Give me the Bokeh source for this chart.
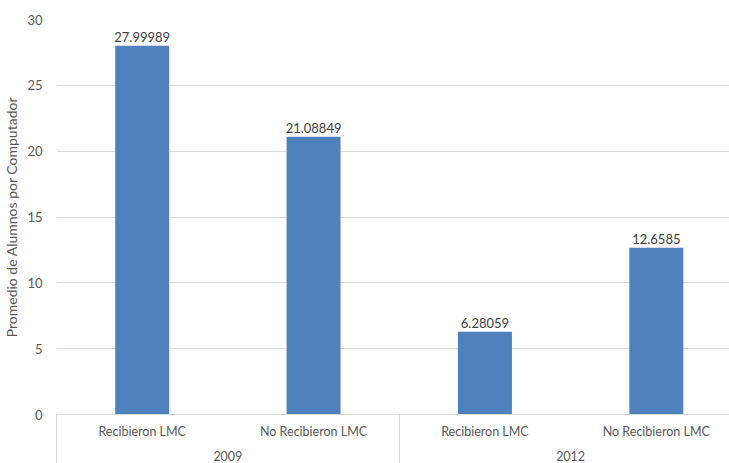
from bokeh.plotting import figure
from bokeh.models import Range1d, LinearAxis, FixedTicker, ColumnDataSource
from bokeh.embed import file_html
from bokeh.resources import INLINE
from bokeh.core.properties import value

years = ["2009", "2012"]
groups = ["Recibieron LMC", "No Recibieron LMC"]
values = [27.99989, 21.08849, 6.28059, 12.6585]
value_labels = ["27.99989", "21.08849", "6.28059", "12.6585"]
y_ticks = [0, 5, 10, 15, 20, 25, 30]
y_title = "Promedio de Alumnos por Computador"

FONT = "Lato"
BAR = "#4f81bd"
GRID = "#d9d9d9"
TXT = "#595959"

n = len(years) * len(groups)
xs = [i + 0.5 for i in range(n)]
cat_names = [g for _ in years for g in groups]
year_pos = [len(groups) * k + len(groups) / 2 for k in range(len(years))]
seps = [len(groups) * k for k in range(len(years) + 1)]

src = ColumnDataSource(dict(x=xs, v=values, lbl=value_labels))

p = figure(width=729, height=463, x_range=Range1d(0, 3.927), y_range=Range1d(0, 30),
           output_backend="svg", toolbar_location=None, x_axis_location=None,
           min_border_top=19, min_border_bottom=49, min_border_left=56, min_border_right=0)
p.outline_line_color = None
p.background_fill_color = "white"
p.border_fill_color = "white"

p.vbar(x="x", top="v", width=0.315, source=src, fill_color=BAR, line_color=None)
p.text(x="x", y="v", text="lbl", source=src, y_offset=-4, text_align="center",
       text_baseline="bottom", text_font=value(FONT), text_font_size="13px", text_color="#404040")

ya = p.yaxis[0]
ya.ticker = FixedTicker(ticks=y_ticks)
ya.axis_line_color = None
ya.major_tick_line_color = None
ya.minor_tick_line_color = None
ya.major_tick_out = 0
ya.major_tick_in = 0
ya.major_label_standoff = 14
ya.major_label_text_font = FONT
ya.major_label_text_font_size = "13px"
ya.major_label_text_color = TXT
ya.axis_label = y_title
ya.axis_label_text_font = FONT
ya.axis_label_text_font_size = "14px"
ya.axis_label_text_font_style = "normal"
ya.axis_label_text_color = TXT
ya.axis_label_standoff = 4

p.ygrid.ticker = FixedTicker(ticks=y_ticks)
p.ygrid.grid_line_color = GRID
p.xgrid.visible = False

ax1 = LinearAxis(ticker=FixedTicker(ticks=xs, minor_ticks=seps),
                 major_label_overrides={x: c for x, c in zip(xs, cat_names)})
ax1.axis_line_color = GRID
ax1.major_tick_line_color = None
ax1.major_tick_out = 0
ax1.major_tick_in = 0
ax1.minor_tick_line_color = GRID
ax1.minor_tick_in = 0
ax1.minor_tick_out = 49
ax1.major_label_standoff = -40
ax1.major_label_text_font = FONT
ax1.major_label_text_font_size = "12.5px"
ax1.major_label_text_color = TXT

ax2 = LinearAxis(ticker=FixedTicker(ticks=year_pos),
                 major_label_overrides={x: y for x, y in zip(year_pos, years)})
ax2.axis_line_color = None
ax2.major_tick_line_color = None
ax2.minor_tick_line_color = None
ax2.major_tick_out = 0
ax2.major_tick_in = 0
ax2.major_label_standoff = 9
ax2.major_label_text_font = FONT
ax2.major_label_text_font_size = "12.5px"
ax2.major_label_text_color = TXT

p.add_layout(ax1, "below")
p.add_layout(ax2, "below")

open("out.html", "w").write(file_html(p, INLINE))
